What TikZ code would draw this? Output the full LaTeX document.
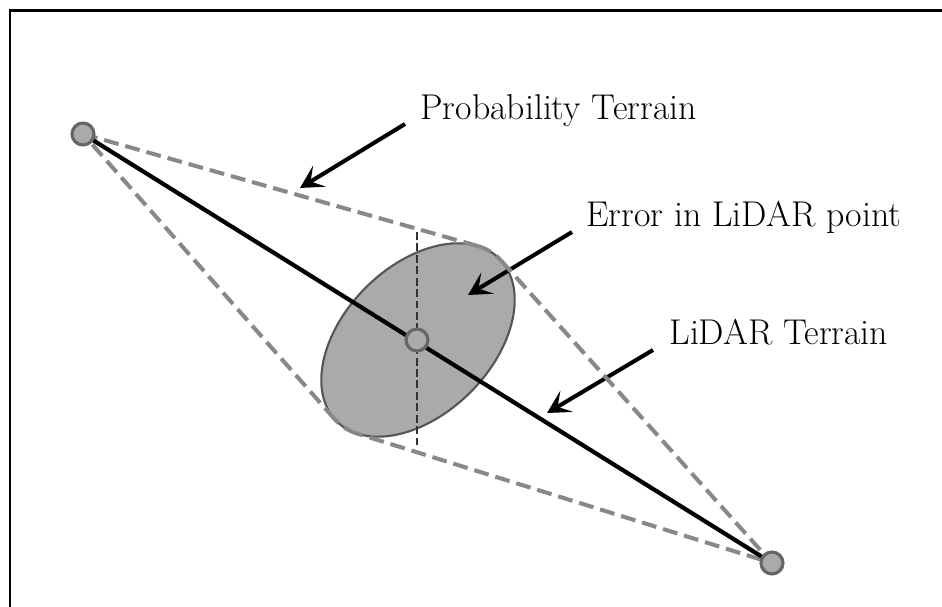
\documentclass[tikz,border=0pt]{standalone}
\usetikzlibrary{arrows.meta}
\definecolor{hullgray}{HTML}{888888}
\definecolor{ellfill}{HTML}{AAAAAA}
\definecolor{ellline}{HTML}{555555}
\definecolor{ptline}{HTML}{666666}
\begin{document}
\begin{tikzpicture}[x=0.02cm, y=0.02cm,
  hull/.style={draw=hullgray, line width=2.3pt, dash pattern=on 8.5pt off 4pt},
  terrain/.style={draw=black, line width=2.4pt},
  axisline/.style={draw=black!80, line width=0.9pt, dash pattern=on 4.5pt off 2pt},
  pt/.style={circle, fill=ellfill, draw=ptline, line width=1.8pt, inner sep=0pt, minimum size=12.5pt},
  callout/.style={draw=black, line width=2.3pt, -{Stealth[length=13pt, width=14pt, inset=6pt]}},
  lbl/.style={anchor=base west, inner sep=0pt, font=\fontsize{20.4}{24}\selectfont}]
\useasboundingbox (0,0) rectangle (942,-607);
% frame
\draw[line width=1.7pt] (10,-607) -- (10,-11) -- (942,-11);
% ellipse and tangent points
\coordinate (C) at (418,-340);
\begin{scope}[shift={(418,-340)}, rotate=45]
  \fill[ellfill] (0,0) ellipse [x radius=115, y radius=74];
  \draw[ellline, line width=1.2pt] (0,0) ellipse [x radius=115, y radius=74];
  \coordinate (Ta) at (19.77:115 and 74);
  \coordinate (Tb) at (-2.10:115 and 74);
  \coordinate (Tc) at (-161.38:115 and 74);
  \coordinate (Td) at (177.77:115 and 74);
\end{scope}
% named points
\coordinate (P1) at (83,-134);
\coordinate (P2) at (772,-563);
% labels
\node[lbl] (lprob) at (420,-120) {Probability Terrain};
\node[lbl] (lerr) at (586,-227) {Error in LiDAR point};
\node[lbl] (lter) at (669,-345) {LiDAR Terrain};
% callout arrows
\coordinate (a1s) at (405,-124); \coordinate (a1e) at (300,-188);
\coordinate (a2s) at (572,-232); \coordinate (a2e) at (468,-295);
\coordinate (a3s) at (653,-350); \coordinate (a3e) at (547,-413);
\draw[callout] (a1s) -- (a1e);
\draw[callout] (a2s) -- (a2e);
\draw[callout] (a3s) -- (a3e);
% probability hull
\draw[hull] (P1) -- (Ta);
\draw[hull] (Tb) -- (P2) -- (Tc);
\draw[hull] (Td) -- (P1);
\begin{scope}[shift={(418,-340)}, rotate=45]
  \draw[hull] (19.77:115 and 74) arc[start angle=19.77, end angle=-2.10, x radius=115, y radius=74];
  \draw[hull] (-161.38:115 and 74) arc[start angle=-161.38, end angle=-182.23, x radius=115, y radius=74];
\end{scope}
% vertical axis
\coordinate (vtop) at (417,-232);
\coordinate (vbot) at (417,-447);
\draw[axisline] (vtop) -- (vbot);
% LiDAR terrain line
\draw[terrain] (P1) -- (P2);
% points
\node[pt] (n1) at (P1) {};
\node[pt] (n2) at (P2) {};
\node[pt] (nc) at (417,-340) {};
\end{tikzpicture}
\end{document}
